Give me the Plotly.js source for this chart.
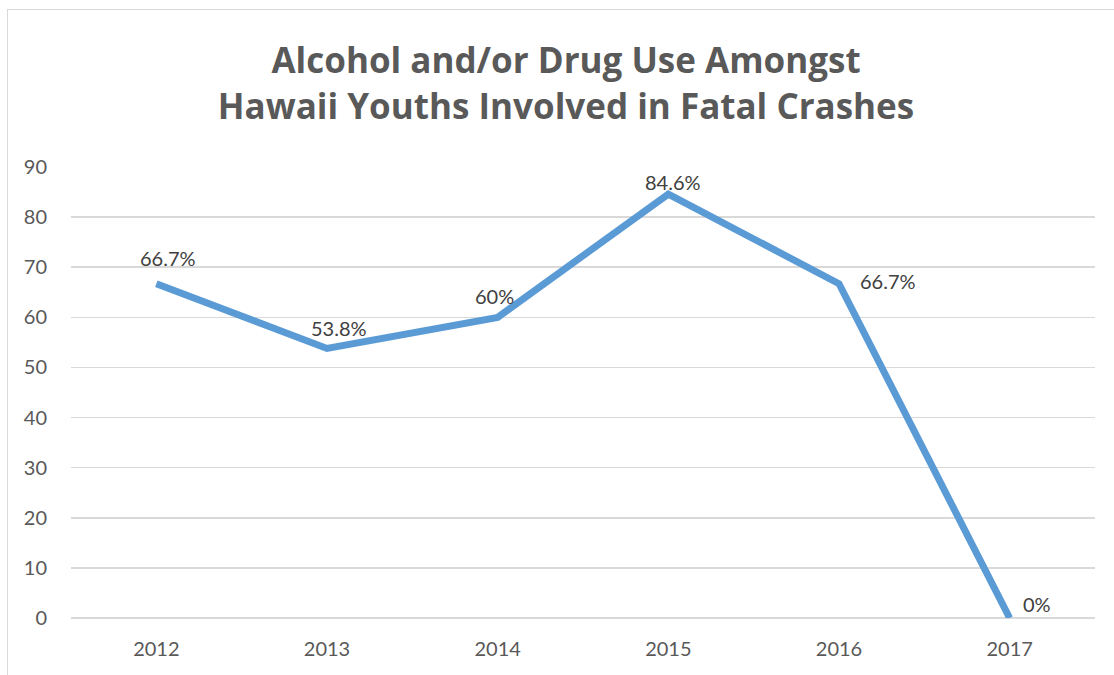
<!DOCTYPE html>
<html>
<head>
<meta charset="utf-8">
<script src="https://cdn.plot.ly/plotly-3.0.1.min.js"></script>
<style>
  html, body { margin: 0; padding: 0; background: #ffffff; overflow: hidden; }
  #chart { width: 1114px; height: 675px; position: absolute; left: 0; top: 0; }
  #frame { position: absolute; left: 7px; top: 9px; width: 1200px; height: 800px;
           border: 1.5px solid #d9d9d9; pointer-events: none; box-sizing: border-box; }
</style>
</head>
<body>
<div id="chart"></div>
<div id="frame"></div>
<script>
const years = ["2012", "2013", "2014", "2015", "2016", "2017"];
const values = [66.7, 53.8, 60, 84.6, 66.7, 0];
const labels = ["66.7%", "53.8%", "60%", "84.6%", "66.7%", "0%"];
const yTicks = [0, 10, 20, 30, 40, 50, 60, 70, 80, 90];

const labelShifts = [[12, 26], [12, 20], [-3, 21], [5, 12], [49, 3], [27, 14]];

const trace = {
  x: years,
  y: values,
  type: "scatter",
  mode: "lines",
  line: { color: "#5B9BD5", width: 7, shape: "linear" },
  hoverinfo: "skip",
  showlegend: false
};

const annotations = years.map((yr, i) => ({
  x: years.indexOf(yr), y: values[i], xref: "x", yref: "y",
  text: labels[i], showarrow: false,
  xshift: labelShifts[i][0], yshift: labelShifts[i][1],
  font: { family: "Lato, 'Open Sans', sans-serif", size: 20, color: "#404040" }
}));

const layout = {
  width: 1114, height: 675,
  paper_bgcolor: "#ffffff", plot_bgcolor: "#ffffff",
  margin: { l: 71, r: 19, t: 167, b: 56.5, pad: 0 },
  title: {
    text: "Alcohol and/or Drug Use Amongst<br>Hawaii Youths Involved in Fatal Crashes",
    font: { family: "'Open Sans', sans-serif", size: 35, color: "#595959", weight: 700 },
    x: 566 / 1114, xref: "container", xanchor: "center",
    y: 1 - 73 / 675, yref: "container", yanchor: "middle"
  },
  xaxis: {
    type: "category",
    range: [-0.5, 5.5],
    showgrid: false, zeroline: false, showline: false,
    ticks: "", ticklabelstandoff: 17,
    tickfont: { family: "Lato, 'Open Sans', sans-serif", size: 20, color: "#595959" },
    fixedrange: true
  },
  yaxis: {
    range: [0, 90],
    tickvals: yTicks,
    ticktext: yTicks.map(String),
    showgrid: true, gridcolor: "#d9d9d9", gridwidth: 1.5,
    zeroline: true, zerolinecolor: "#d9d9d9", zerolinewidth: 1.5,
    showline: false,
    ticks: "", ticklabelstandoff: 23,
    tickfont: { family: "Lato, 'Open Sans', sans-serif", size: 20, color: "#595959" },
    fixedrange: true
  },
  annotations: annotations
};

Plotly.newPlot("chart", [trace], layout, { displayModeBar: false, staticPlot: true });
</script>
</body>
</html>
